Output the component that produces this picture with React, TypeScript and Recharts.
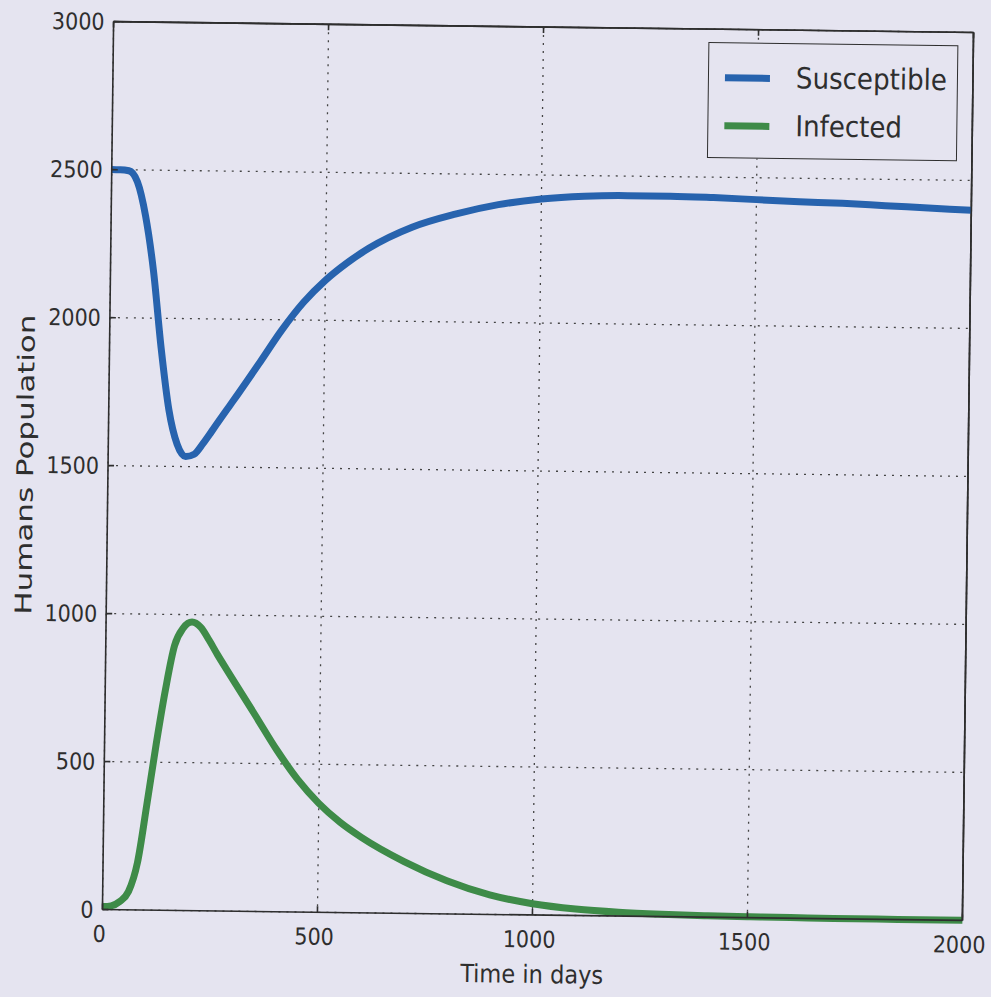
import {
  CartesianGrid,
  Label,
  Legend,
  Line,
  LineChart,
  ReferenceLine,
  XAxis,
  YAxis,
} from "recharts";

// time in days and the two compartments of the human population
const days = [
  0, 20, 40, 60, 80, 100, 120, 140, 160, 180, 200, 220, 240, 260, 280, 300,
  350, 400, 450, 500, 550, 600, 700, 800, 900, 1000, 1100, 1200, 1300, 1400,
  1500, 1600, 1700, 1800, 1900, 2000,
];
const susceptible = [
  2500, 2500, 2497, 2460, 2345, 2160, 1900, 1690, 1575, 1534, 1542, 1578, 1620,
  1663, 1705, 1747, 1855, 1965, 2060, 2135, 2195, 2245, 2318, 2364, 2398, 2419,
  2430, 2434, 2434, 2431, 2426, 2421, 2417, 2411, 2405, 2399,
];
const infected = [
  10, 13, 28, 62, 160, 355, 560, 745, 895, 955, 975, 958, 915, 866, 820, 775,
  662, 548, 448, 368, 305, 255, 175, 112, 66, 38, 22, 13, 8, 5, 3, 2, 1, 1, 0,
  0,
];

const xTicks = [0, 500, 1000, 1500, 2000];
const yTicks = [0, 500, 1000, 1500, 2000, 2500, 3000];

const data = days.map((t, i) => ({
  t,
  susceptible: susceptible[i],
  infected: infected[i],
}));

const BG = "#e5e4f0";
const INK = "#2e2e2e";
const BLUE = "#2763ae";
const GREEN = "#3e8b48";
const FONT = "'DejaVu Sans Condensed', 'DejaVu Sans', sans-serif";

const tickStyle = { fontSize: 23, fill: INK, fontFamily: FONT, fontStretch: "condensed" };
const frame = { stroke: INK, strokeWidth: 1.6 };

const legendItems = [
  { name: "Susceptible", color: BLUE },
  { name: "Infected", color: GREEN },
];

function LegendBox() {
  return (
    <div
      style={{
        width: 250,
        height: 116,
        border: `1.6px solid ${INK}`,
        background: BG,
        boxSizing: "border-box",
        paddingTop: 10,
      }}
    >
      {legendItems.map((it) => (
        <div
          key={it.name}
          style={{ display: "flex", alignItems: "center", height: 48 }}
        >
          <div
            style={{
              width: 45,
              height: 7,
              background: it.color,
              marginLeft: 16,
              marginRight: 26,
            }}
          />
          <span
            style={{
              fontFamily: FONT,
              fontStretch: "condensed",
              fontSize: 29,
              color: INK,
            }}
          >
            {it.name}
          </span>
        </div>
      ))}
    </div>
  );
}

export default function App() {
  return (
    <div
      style={{
        position: "absolute",
        left: 0,
        top: 0,
        width: 991,
        height: 997,
        background: BG,
        overflow: "hidden",
      }}
    >
      <div style={{ transform: "rotate(0.72deg)", transformOrigin: "538px 471px" }}>
        <LineChart
          width={991}
          height={997}
          data={data}
          margin={{ top: 26, right: 22, bottom: 22, left: 8 }}
        >
          <CartesianGrid stroke="#444" strokeWidth={1.3} strokeDasharray="2 6" />
          <XAxis
            dataKey="t"
            type="number"
            domain={[0, 2000]}
            ticks={xTicks}
            height={60}
            axisLine={frame}
            tickLine={frame}
            tickSize={-6}
            tickMargin={22}
            tick={{ ...tickStyle, dx: -3 }}
          >
            <Label
              content={({ viewBox }: any) => (
                <text
                  x={viewBox.x + viewBox.width / 2}
                  y={viewBox.y + 68}
                  textAnchor="middle"
                  fontSize={25}
                  fill={INK}
                  fontFamily={FONT}
                  style={{ fontStretch: "condensed" }}
                >
                  Time in days
                </text>
              )}
            />
          </XAxis>
          <XAxis
            xAxisId="top"
            orientation="top"
            dataKey="t"
            type="number"
            domain={[0, 2000]}
            ticks={xTicks}
            height={1}
            axisLine={frame}
            tickLine={frame}
            tickSize={-6}
            tickFormatter={() => ""}
          />
          <YAxis
            type="number"
            domain={[0, 3000]}
            ticks={yTicks}
            width={100}
            axisLine={frame}
            tickLine={frame}
            tickSize={-6}
            tickMargin={15}
            tick={tickStyle}
          >
            <Label
              content={({ viewBox }: any) => {
                const cx = viewBox.x + 17;
                const cy = viewBox.y + viewBox.height / 2;
                return (
                  <text
                    x={cx}
                    y={cy}
                    textAnchor="middle"
                    dominantBaseline="central"
                    transform={`rotate(-90, ${cx}, ${cy})`}
                    fontSize={23}
                    fill={INK}
                    fontFamily="'DejaVu Sans', sans-serif"
                    textLength={300}
                    lengthAdjust="spacingAndGlyphs"
                  >
                    Humans Population
                  </text>
                );
              }}
            />
          </YAxis>
          <YAxis
            yAxisId="right"
            orientation="right"
            type="number"
            domain={[0, 3000]}
            ticks={yTicks}
            width={1}
            axisLine={frame}
            tickLine={frame}
            tickSize={-6}
            tickFormatter={() => ""}
          />
          <ReferenceLine y={3000} stroke={INK} strokeWidth={1.6} />
          <ReferenceLine x={2000} stroke={INK} strokeWidth={1.6} />
          <Legend
            layout="vertical"
            align="center"
            verticalAlign="middle"
            content={() => <LegendBox />}
            wrapperStyle={{ left: 703, top: 40, width: 250, height: 116 }}
          />
          <Line
            type="monotone"
            dataKey="susceptible"
            name="Susceptible"
            stroke={BLUE}
            strokeWidth={7}
            dot={false}
            isAnimationActive={false}
          />
          <Line
            type="monotone"
            dataKey="infected"
            name="Infected"
            stroke={GREEN}
            strokeWidth={7}
            dot={false}
            isAnimationActive={false}
          />
        </LineChart>
      </div>
    </div>
  );
}
